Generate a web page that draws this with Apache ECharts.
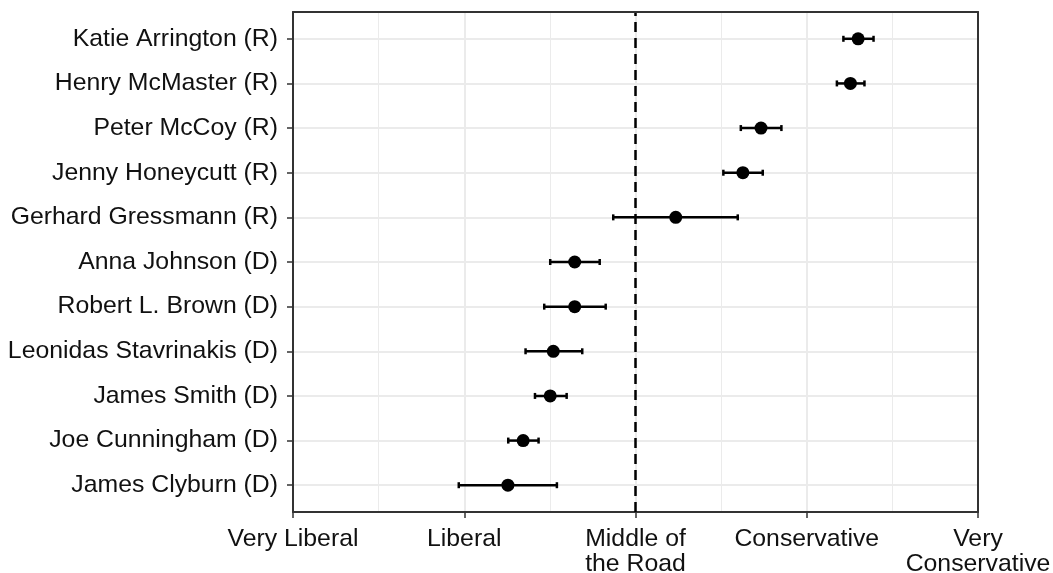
<!DOCTYPE html>
<html>
<head>
<meta charset="utf-8">
<script src="https://cdn.jsdelivr.net/npm/echarts@6/dist/echarts.min.js"></script>
<style>
  html, body { margin: 0; padding: 0; background: #fff; }
  #chart { width: 1053px; height: 573px; }
</style>
</head>
<body>
<div id="chart"></div>
<script>
// candidates, top to bottom as in the picture
const candidates = [
    'Katie Arrington (R)', 'Henry McMaster (R)', 'Peter McCoy (R)', 'Jenny Honeycutt (R)',
    'Gerhard Gressmann (R)', 'Anna Johnson (D)', 'Robert L. Brown (D)',
    'Leonidas Stavrinakis (D)', 'James Smith (D)', 'Joe Cunningham (D)', 'James Clyburn (D)'
];
const estimate = [4.30, 4.255, 3.733, 3.627, 3.235, 2.645, 2.645, 2.52, 2.502, 2.344, 2.255];
const lower    = [4.214, 4.176, 3.615, 3.513, 2.87, 2.502, 2.467, 2.358, 2.413, 2.257, 1.968];
const upper    = [4.39, 4.337, 3.852, 3.743, 3.597, 2.791, 2.826, 2.689, 2.598, 2.434, 2.541];
const scaleLabels = ['Very Liberal', 'Liberal', 'Middle of\nthe Road', 'Conservative', 'Very\nConservative'];

const n = candidates.length;
const rowValues = candidates.map((c, i) => n - i);

const pointData = estimate.map((v, i) => [v, n - i]);
const barData = estimate.map((v, i) => [lower[i], upper[i], n - i]);

const textStyle = { color: '#111', fontSize: 24.8, fontFamily: 'Liberation Sans, Arial, sans-serif' };
const frame = { show: true, lineStyle: { color: '#333', width: 2 } };
const hidden = { show: false };

// extra axes that only draw the panel frame, on top of the grid lines
const frameX = pos => ({
    type: 'value', position: pos, min: 1, max: 5, z: 5,
    axisLine: frame, axisTick: hidden, axisLabel: hidden, splitLine: hidden
});
const frameY = pos => ({
    type: 'value', position: pos, min: 0.4, max: 11.6, z: 5,
    axisLine: frame, axisTick: hidden, axisLabel: hidden, splitLine: hidden
});

const chart = echarts.init(document.getElementById('chart'));
const option = {
    animation: false,
    backgroundColor: '#fff',
    grid: { left: 293, right: 75, top: 12, bottom: 61, containLabel: false, outerBoundsMode: 'none' },
    xAxis: [{
        type: 'value', min: 1, max: 5, interval: 1,
        axisLine: frame,
        axisTick: { show: true, length: 6, lineStyle: { color: '#333', width: 1.5 } },
        axisLabel: Object.assign({
            margin: 15, lineHeight: 25, align: 'center',
            formatter: v => scaleLabels[v - 1]
        }, textStyle),
        splitLine: { show: true, lineStyle: { color: '#EBEBEB', width: 2 } },
        minorTick: { show: false, splitNumber: 2 },
        minorSplitLine: { show: true, lineStyle: { color: '#EBEBEB', width: 1 } }
    }, frameX('top')],
    yAxis: [{
        type: 'value', min: 0.4, max: 11.6,
        axisLine: hidden,
        axisTick: { show: true, length: 6, customValues: rowValues, lineStyle: { color: '#333', width: 1.5 } },
        axisLabel: Object.assign({
            margin: 15, customValues: rowValues,
            formatter: v => candidates[n - v]
        }, textStyle),
        splitLine: { show: true, lineStyle: { color: '#EBEBEB', width: 2 } }
    }, frameY('left'), frameY('right')],
    series: [
        {
            type: 'custom',
            z: 2,
            data: barData,
            renderItem: (params, api) => {
                const a = api.coord([api.value(0), api.value(2)]);
                const b = api.coord([api.value(1), api.value(2)]);
                const h = 3;
                const style = () => ({ stroke: '#000', lineWidth: 2.5 });
                return {
                    type: 'group',
                    children: [
                        { type: 'line', shape: { x1: a[0], y1: a[1], x2: b[0], y2: b[1] }, style: style() },
                        { type: 'line', shape: { x1: a[0], y1: a[1] - h, x2: a[0], y2: a[1] + h }, style: style() },
                        { type: 'line', shape: { x1: b[0], y1: b[1] - h, x2: b[0], y2: b[1] + h }, style: style() }
                    ]
                };
            },
            markLine: {
                silent: true,
                symbol: 'none',
                label: { show: false },
                lineStyle: { color: '#000', width: 2.5, type: [10, 6] },
                data: [{ xAxis: 3 }]
            }
        },
        {
            type: 'scatter',
            z: 3,
            symbol: 'circle',
            symbolSize: 13,
            itemStyle: { color: '#000', opacity: 1 },
            data: pointData
        }
    ]
};
chart.setOption(option);
</script>
</body>
</html>
